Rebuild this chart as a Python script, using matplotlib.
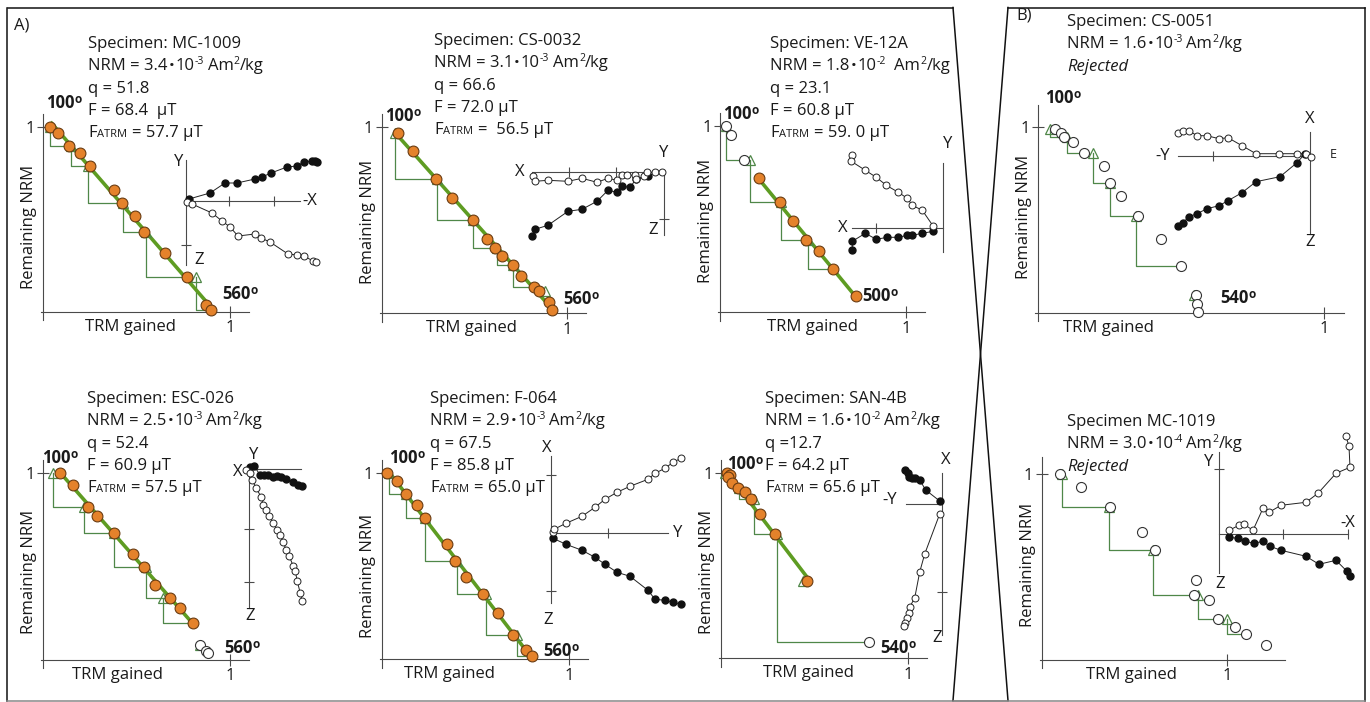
import numpy as np
import matplotlib.pyplot as plt

# ---------------- Arai data: TRM gained (x) / NRM remaining (y) ----------------
mc1009_trm = [0.04, 0.08, 0.14, 0.20, 0.25, 0.38, 0.42, 0.49, 0.54, 0.65, 0.77, 0.87, 0.90]
mc1009_nrm = [1.00, 0.97, 0.90, 0.86, 0.79, 0.66, 0.59, 0.52, 0.43, 0.32, 0.19, 0.04, 0.01]
mc1009_chk_trm = [0.04, 0.15, 0.24, 0.43, 0.55, 0.82]
mc1009_chk_from = [0, 2, 4, 6, 8, 10]
mc1009_chk_to = [2, 4, 6, 8, 10, 12]

cs0032_trm = [0.09, 0.17, 0.29, 0.38, 0.49, 0.57, 0.61, 0.65, 0.71, 0.75, 0.82, 0.85, 0.90, 0.92]
cs0032_nrm = [0.97, 0.87, 0.72, 0.62, 0.50, 0.40, 0.35, 0.31, 0.26, 0.20, 0.14, 0.12, 0.06, 0.02]
cs0032_chk_trm = [0.07, 0.30, 0.49, 0.62, 0.71, 0.88]
cs0032_chk_from = [0, 2, 4, 6, 8, 11]
cs0032_chk_to = [2, 4, 6, 8, 10, 11]

ve12a_trm = [0.03, 0.06, 0.13, 0.21, 0.32, 0.39, 0.46, 0.53, 0.61, 0.73]
ve12a_nrm = [1.00, 0.95, 0.82, 0.72, 0.59, 0.49, 0.39, 0.33, 0.23, 0.09]
ve12a_chk_trm = [0.03, 0.16, 0.33, 0.475]
ve12a_chk_from = [0, 2, 4, 6]
ve12a_chk_to = [2, 4, 6, 8]

cs0051_trm = [0.06, 0.08, 0.09, 0.12, 0.16, 0.23, 0.25, 0.29, 0.35, 0.43, 0.50, 0.55, 0.555, 0.557]
cs0051_nrm = [0.99, 0.97, 0.95, 0.92, 0.86, 0.79, 0.70, 0.63, 0.52, 0.40, 0.25, 0.095, 0.047, 0.005]
cs0051_chk_trm = [0.04, 0.10, 0.19, 0.25, 0.34, 0.545]
cs0051_chk_from = [0, 2, 4, 6, 8, 11]
cs0051_chk_to = [2, 4, 6, 8, 10, 12]

esc026_trm = [0.09, 0.16, 0.24, 0.29, 0.38, 0.48, 0.54, 0.60, 0.68, 0.73, 0.80, 0.84, 0.87, 0.88]
esc026_nrm = [1.00, 0.94, 0.82, 0.77, 0.68, 0.57, 0.50, 0.40, 0.33, 0.28, 0.20, 0.08, 0.05, 0.04]
esc026_chk_trm = [0.05, 0.22, 0.38, 0.55, 0.64, 0.84]
esc026_chk_from = [0, 2, 4, 6, 8, 11]
esc026_chk_to = [2, 4, 6, 8, 10, 11]

f064_trm = [0.03, 0.08, 0.13, 0.19, 0.23, 0.35, 0.39, 0.45, 0.54, 0.62, 0.70, 0.77, 0.80]
f064_nrm = [1.00, 0.96, 0.89, 0.83, 0.76, 0.62, 0.53, 0.44, 0.35, 0.25, 0.13, 0.05, 0.02]
f064_chk_trm = [0.04, 0.13, 0.23, 0.40, 0.555, 0.725]
f064_chk_from = [0, 2, 4, 6, 8, 10]
f064_chk_to = [2, 4, 6, 8, 10, 12]

san4b_trm = [0.03, 0.05, 0.04, 0.06, 0.09, 0.13, 0.16, 0.21, 0.29, 0.46, 0.79]
san4b_nrm = [1.00, 0.99, 0.98, 0.95, 0.92, 0.90, 0.86, 0.78, 0.67, 0.42, 0.09]
san4b_chk_trm = [0.02, 0.095, 0.175, 0.30, 0.44]
san4b_chk_from = [0, 4, 6, 8, 9]
san4b_chk_to = [0, 6, 8, 10, 9]

mc1019_trm = [0.10, 0.21, 0.37, 0.54, 0.61, 0.83, 0.82, 0.90, 0.95, 1.04, 1.10, 1.21]
mc1019_nrm = [1.00, 0.93, 0.82, 0.69, 0.59, 0.43, 0.35, 0.32, 0.22, 0.18, 0.14, 0.08]
mc1019_chk_trm = [0.11, 0.36, 0.60, 0.84, 1.00]
mc1019_chk_from = [0, 2, 4, 6, 8]
mc1019_chk_to = [2, 4, 6, 8, 10]

# ---------------- Zijderveld projections (arbitrary units) ----------------
mc1009_fx = [3, 24, 39, 51, 69, 76, 85, 101, 111, 118, 126, 129, 131]
mc1009_fy = [2, 8, 18, 18, 22, 24, 28, 34, 35, 39, 40, 40, 39]
mc1009_ox = [1, 6, 26, 36, 44, 52, 69, 75, 84, 102, 111, 118, 127, 130]
mc1009_oy = [-1, -3, -12, -20, -26, -35, -33, -37, -41, -53, -54, -55, -60, -61]

cs0032_fx = [-132, -129, -116, -96, -82, -67, -56, -47, -42, -34, -28, -16]
cs0032_fy = [-64, -57, -53, -39, -37, -29, -18, -20, -14, -15, -7, -4]
cs0032_ox = [-131, -129, -116, -96, -82, -67, -56, -47, -42, -37, -29, -28, -20, -17, -9, -2]
cs0032_oy = [-4, -9, -8, -9, -6, -10, -6, -8, -3, -3, -3, -7, -4, 0, 0, 0]

ve12a_fx = [-91, -91, -78, -67, -56, -45, -36, -31, -21, -10]
ve12a_fy = [-22, -13, -5, -11, -9, -9, -7, -7, -5, -3]
ve12a_ox = [-91, -92, -78, -67, -57, -45, -36, -31, -21, -10]
ve12a_oy = [73, 67, 58, 51, 43, 36, 30, 23, 18, 2]

cs0051_fx = [-132, -127, -121, -113, -103, -91, -82, -68, -54, -30, -13, -5]
cs0051_fy = [-70, -67, -61, -58, -53, -50, -45, -37, -26, -21, -7, 2]
cs0051_ox = [-132, -127, -121, -113, -103, -91, -82, -68, -54, -31, -13, -4, 1]
cs0051_oy = [23, 25, 25, 20, 20, 17, 18, 10, 2, 2, 2, 2, -1]

esc026_fx = [1, 5, 11, 15, 19, 24, 28, 32, 37, 44, 49, 53]
esc026_fy = [2, 3, -6, -6, -6, -8, -7, -8, -10, -13, -16, -17]
esc026_ox = [-3, 1, 3, 7, 12, 14, 17, 20, 24, 28, 31, 34, 37, 40, 44, 46, 48, 51, 53]
esc026_oy = [-1, -4, -11, -19, -28, -36, -41, -47, -54, -61, -66, -73, -81, -87, -97, -102, -112, -124, -132]

f064_fx = [2, 15, 31, 44, 54, 66, 79, 97, 104, 114, 122, 130]
f064_fy = [-5, -11, -17, -24, -31, -39, -43, -57, -66, -67, -69, -71]
f064_ox = [2, 3, 15, 31, 44, 54, 66, 79, 97, 104, 114, 122, 130]
f064_oy = [1, 4, 10, 17, 26, 34, 41, 47, 54, 60, 65, 71, 75]

san4b_fx = [-37, -34, -33, -30, -27, -22, -16, -2]
san4b_fy = [34, 31, 27, 26, 26, 24, 14, 3]
san4b_ox = [-2, -17, -22, -27, -32, -33, -35, -37, -38]
san4b_oy = [-10, -50, -68, -94, -103, -109, -114, -119, -122]

mc1019_fx = [10, 19, 26, 35, 44, 51, 62, 87, 100, 117, 128, 131]
mc1019_fy = [-3, -4, -7, -9, -7, -12, -16, -22, -30, -26, -37, -42]
mc1019_ox = [10, 20, 25, 34, 44, 50, 62, 87, 99, 117, 131, 130, 127]
mc1019_oy = [4, 9, 10, 4, 26, 22, 29, 32, 41, 61, 67, 88, 98]

# ---------------- specimen annotations ----------------
names = ["Specimen: MC-1009", "Specimen: CS-0032", "Specimen: VE-12A", "Specimen: CS-0051",
         "Specimen: ESC-026", "Specimen: F-064", "Specimen: SAN-4B", "Specimen MC-1019"]
nrm_mant = ["3.4", "3.1", "1.8", "1.6", "2.5", "2.9", "1.6", "3.0"]
nrm_exp = ["-3", "-3", "-2", "-3", "-3", "-3", "-2", "-4"]
q_txt = ["q = 51.8", "q = 66.6", "q = 23.1", None, "q = 52.4", "q = 67.5", "q =12.7", None]
f_txt = ["F = 68.4  µT", "F = 72.0 µT", "F = 60.8 µT", None, "F = 60.9 µT", "F = 85.8 µT", "F = 64.2 µT", None]
fatrm_txt = ["= 57.7 µT", "=  56.5 µT", "= 59. 0 µT", None, "= 57.5 µT", "= 65.0 µT", "= 65.6 µT", None]

W, H = 1370, 702
FS = 12
plt.rcParams['font.family'] = ['Open Sans', 'DejaVu Sans']
TXT = '#1a1a1a'
AXC = '#4a4a4a'
ORANGE = '#E4822B'
OEDGE = '#6a3c12'
GFIT = '#5E9C22'
GSTEP = '#4F8748'

fig = plt.figure(figsize=(W / 100, H / 100), dpi=100)
ov = fig.add_axes([0, 0, 1, 1])
ov.set_xlim(0, W)
ov.set_ylim(H, 0)
ov.axis('off')
ov.set_zorder(10)
renderer = fig.canvas.get_renderer()


def px_axes(left, top, width, height):
    ax = fig.add_axes([left / W, 1 - (top + height) / H, width / W, height / H])
    ax.patch.set_visible(False)
    return ax


def runs(x, y, parts, size=FS, weight='normal', style='normal'):
    # place text pieces side by side on a common baseline
    for p in parts:
        if isinstance(p, (int, float)):
            x += p
            continue
        s, opt = p if isinstance(p, tuple) else (p, {})
        t = ov.text(x, y - opt.get('dy', 0), s, fontsize=opt.get('size', size),
                    fontweight=opt.get('weight', weight), fontstyle=opt.get('style', style),
                    ha='left', va='baseline', color=TXT)
        x += t.get_window_extent(renderer).width + opt.get('after', 0)


SUP = dict(size=7.5, dy=6)
BUL = dict(size=11, dy=0.5, after=1)
SMALL = dict(size=8)


def block(i, x, y0, dy=22.3):
    gap = 9 if i == 2 else 4
    lines = [[names[i]],
             ["NRM = " + nrm_mant[i], 1, ("•", BUL), "10", (nrm_exp[i], SUP), gap,
              "Am", ("2", SUP), "/kg"]]
    if q_txt[i] is None:
        lines.append([("Rejected", dict(style='italic'))])
    else:
        lines += [[q_txt[i]], [f_txt[i]], ["F", ("ATRM", SMALL), 5, fatrm_txt[i]]]
    for j, parts in enumerate(lines):
        runs(x, y0 + 6 + j * dy, parts)


def temp(label, x, cy):
    runs(x, cy + 6, [label, ("o", dict(size=8.5, dy=5))], weight='bold')


def arai(ox, oy, ux, uy, trm, nrm, chk_trm, chk_from, chk_to, fit=None,
         xmax=1.1, ymax=1.07, xl=88, yl=89):
    trm = np.array(trm)
    nrm = np.array(nrm)
    x0, x1 = -0.08, max(xmax, trm.max()) + 0.08
    y0, y1 = -0.08, ymax + 0.05
    ax = px_axes(ox + x0 * ux, oy - y1 * uy, (x1 - x0) * ux, (y1 - y0) * uy)
    ax.set_xlim(x0, x1)
    ax.set_ylim(y0, y1)
    for s in ('top', 'right'):
        ax.spines[s].set_visible(False)
    ax.spines['left'].set_position(('data', 0))
    ax.spines['left'].set_bounds(-0.045, ymax)
    ax.spines['bottom'].set_position(('data', 0))
    ax.spines['bottom'].set_bounds(-0.01, xmax)
    for s in ('left', 'bottom'):
        ax.spines[s].set_color(AXC)
        ax.spines[s].set_linewidth(0.8)
    ax.set_xticks([1])
    ax.set_yticks([1])
    ax.set_xticklabels(['1'])
    ax.set_yticklabels(['1'])
    ax.tick_params(direction='inout', length=9, width=0.8, color=AXC,
                   labelsize=FS, labelcolor=TXT, pad=1.5)

    # pTRM checks
    for cx, i, k in zip(chk_trm, chk_from, chk_to):
        if k != i:
            ax.plot([cx, cx, trm[k]], [nrm[i], nrm[k], nrm[k]], color=GSTEP, lw=0.9, zorder=2)
        ax.plot(cx, nrm[i], marker='^', ms=6.5, mfc='none', mec=GSTEP, mew=0.9, zorder=4)

    used = np.zeros(len(trm), bool)
    if fit is not None:
        a, b = fit
        used[a:b + 1] = True
        coef = np.polyfit(trm[used], nrm[used], 1)
        xs = np.array([trm[a], trm[b]])
        ax.plot(xs, np.polyval(coef, xs), color=GFIT, lw=2.6, zorder=3, solid_capstyle='butt')
        ax.plot(trm[used], nrm[used], 'o', ms=7.8, mfc=ORANGE, mec=OEDGE, mew=0.8, zorder=5)
    ax.plot(trm[~used], nrm[~used], 'o', ms=7.2, mfc='white', mec='#333333', mew=0.8, zorder=5)

    ov.text(ox - 14, oy - yl, 'Remaining NRM', rotation=90, ha='center', va='center',
            fontsize=FS, color=TXT)
    ov.text(ox + xl, oy + 15, 'TRM gained', ha='center', va='center', fontsize=FS, color=TXT)
    return ax


def zijd(ox, oy, hr, vr, hticks, vticks, fx, fy, ox_, oy_, labels):
    m = 8
    x0 = min(hr[0], min(fx), min(ox_)) - m
    x1 = max(hr[1], max(fx), max(ox_)) + m
    y0 = min(vr[0], min(fy), min(oy_)) - m
    y1 = max(vr[1], max(fy), max(oy_)) + m
    ax = px_axes(ox + x0, oy - y1, x1 - x0, y1 - y0)
    ax.set_xlim(x0, x1)
    ax.set_ylim(y0, y1)
    for s in ('top', 'right'):
        ax.spines[s].set_visible(False)
    ax.spines['left'].set_position(('data', 0))
    ax.spines['left'].set_bounds(*vr)
    ax.spines['bottom'].set_position(('data', 0))
    ax.spines['bottom'].set_bounds(*hr)
    for s in ('left', 'bottom'):
        ax.spines[s].set_color(AXC)
        ax.spines[s].set_linewidth(0.8)
    ax.set_xticks(hticks)
    ax.set_yticks(vticks)
    ax.set_xticklabels([])
    ax.set_yticklabels([])
    ax.tick_params(direction='inout', length=7, width=0.8, color=AXC)
    ax.plot(fx, fy, '-o', color='#222222', lw=0.7, ms=5, mfc='#111111', mec='#111111', zorder=3)
    ax.plot(ox_, oy_, '-o', color='#222222', lw=0.7, ms=5, mfc='white', mec='#222222',
            mew=0.7, zorder=4)
    for lab, dx, dy, ha in labels:
        size = 9 if lab == 'E' else FS
        ov.text(ox + dx, oy - dy, lab, ha=ha, va='center', fontsize=size, color=TXT)


# ---------------- panel frames ----------------
frame = dict(color='#111111', lw=1.1)
ov.plot([8, 953], [7.5, 7.5], **frame)
ov.plot([7.5, 7.5], [7.5, 700.5], **frame)
ov.plot([7.5, 1008], [700.5, 700.5], color='#888888', lw=1.1)
ov.plot([953, 1008], [7.5, 700.5], **frame)
ov.plot([1008, 953], [7.5, 700.5], **frame)
ov.plot([1008, 1365.5], [7.5, 7.5], **frame)
ov.plot([1365.5, 1365.5], [7.5, 700.5], **frame)
ov.plot([953, 1365.5], [700.5, 700.5], color='#888888', lw=1.1)
ov.text(14, 29, 'A)', fontsize=FS, color=TXT, va='baseline')
ov.text(1016, 20, 'B)', fontsize=FS, color=TXT, va='baseline')

# ---------------- A: accepted specimens ----------------
arai(43, 312, 187, 185, mc1009_trm, mc1009_nrm, mc1009_chk_trm, mc1009_chk_from, mc1009_chk_to,
     fit=(0, 12), xl=87, yl=85)
zijd(186, 201, (0, 114), (-64, 41), [43, 88], [-44], mc1009_fx, mc1009_fy, mc1009_ox, mc1009_oy,
     [("Y", -3, 39, 'right'), ("-X", 116, 0, 'left'), ("Z", 8, -59, 'left')])
block(0, 88, 42)
temp("100", 46, 102)
temp("560", 222, 293)

arai(381.7, 313.3, 185.6, 186, cs0032_trm, cs0032_nrm, cs0032_chk_trm, cs0032_chk_from, cs0032_chk_to,
     fit=(0, 13), xl=90, yl=91)
zijd(664, 172.3, (-132, 0), (-63, 2), [-95, -48], [-47], cs0032_fx, cs0032_fy, cs0032_ox, cs0032_oy,
     [("X", -139, 0, 'right'), ("Y", 0, 19, 'center'), ("Z", -6, -58, 'right')])
block(1, 434, 39)
temp("100", 385, 115)
temp("560", 563, 298)

arai(720, 312.3, 186, 186.3, ve12a_trm, ve12a_nrm, ve12a_chk_trm, ve12a_chk_from, ve12a_chk_to,
     fit=(3, 9), xl=92, yl=91)
zijd(943.3, 228.3, (-91, 0), (-24, 65), [-67], [], ve12a_fx, ve12a_fy, ve12a_ox, ve12a_oy,
     [("X", -96, 0, 'right'), ("Y", 4, 84, 'center')])
block(2, 770, 42)
temp("100", 723, 113)
temp("500", 862, 295)

arai(43.3, 660, 186.7, 186.7, esc026_trm, esc026_nrm, esc026_chk_trm, esc026_chk_from, esc026_chk_to,
     fit=(0, 10), xl=74, yl=88)
zijd(249.3, 469.3, (0, 52), (-139, 3), [], [-60, -113], esc026_fx, esc026_fy, esc026_ox, esc026_oy,
     [("Y", 4, 14, 'center'), ("X", -7, -3, 'right'), ("Z", 1, -147, 'center')])
block(4, 87, 397)
temp("100", 42, 457)
temp("560", 224, 647)

arai(381.7, 659.3, 187.3, 186, f064_trm, f064_nrm, f064_chk_trm, f064_chk_from, f064_chk_to,
     fit=(0, 12), xl=68, yl=83)
zijd(551, 533.3, (0, 117), (-70, 77), [57], [58, -58], f064_fx, f064_fy, f064_ox, f064_oy,
     [("X", -4, 85, 'center'), ("Y", 122, 0, 'left'), ("Z", -3, -87, 'center')])
block(5, 430, 397)
temp("100", 389, 457)
temp("560", 543, 650)

arai(721, 658.3, 187.3, 185, san4b_trm, san4b_nrm, san4b_chk_trm, san4b_chk_from, san4b_chk_to,
     fit=(0, 9), xl=87, yl=86)
zijd(941.7, 504, (-36, 0), (-131, 31), [], [-88], san4b_fx, san4b_fy, san4b_ox, san4b_oy,
     [("X", 4, 44, 'center'), ("-Y", -52, 4, 'center'), ("Z", -5, -134, 'center')])
block(6, 765, 397)
temp("100", 727, 463)
temp("540", 880, 647)

# ---------------- B: rejected specimens ----------------
arai(1038.3, 312.7, 286, 185.3, cs0051_trm, cs0051_nrm, cs0051_chk_trm, cs0051_chk_from, cs0051_chk_to,
     xmax=1.07, ymax=1.12, xl=70, yl=96)
zijd(1310, 155.7, (-132, 0), (-78, 24), [-97], [], cs0051_fx, cs0051_fy, cs0051_ox, cs0051_oy,
     [("X", 0, 37, 'center'), ("-Y", -140, 0, 'right'), ("Z", 0, -86, 'center'), ("E", 20, 1, 'left')])
block(3, 1067, 20)
temp("100", 1045, 97)
temp("540", 1220, 297)

arai(1041.7, 660, 185.7, 186, mc1019_trm, mc1019_nrm, mc1019_chk_trm, mc1019_chk_from, mc1019_chk_to,
     xmax=1.31, ymax=1.09, xl=90, yl=95)
zijd(1219, 534.3, (0, 129), (-39, 82), [64, 129], [65], mc1019_fx, mc1019_fy, mc1019_ox, mc1019_oy,
     [("Y", -6, 72, 'right'), ("-X", 129, 11, 'center'), ("Z", 1, -50, 'center')])
block(7, 1067, 420)

fig.savefig('out.png', dpi=100)
